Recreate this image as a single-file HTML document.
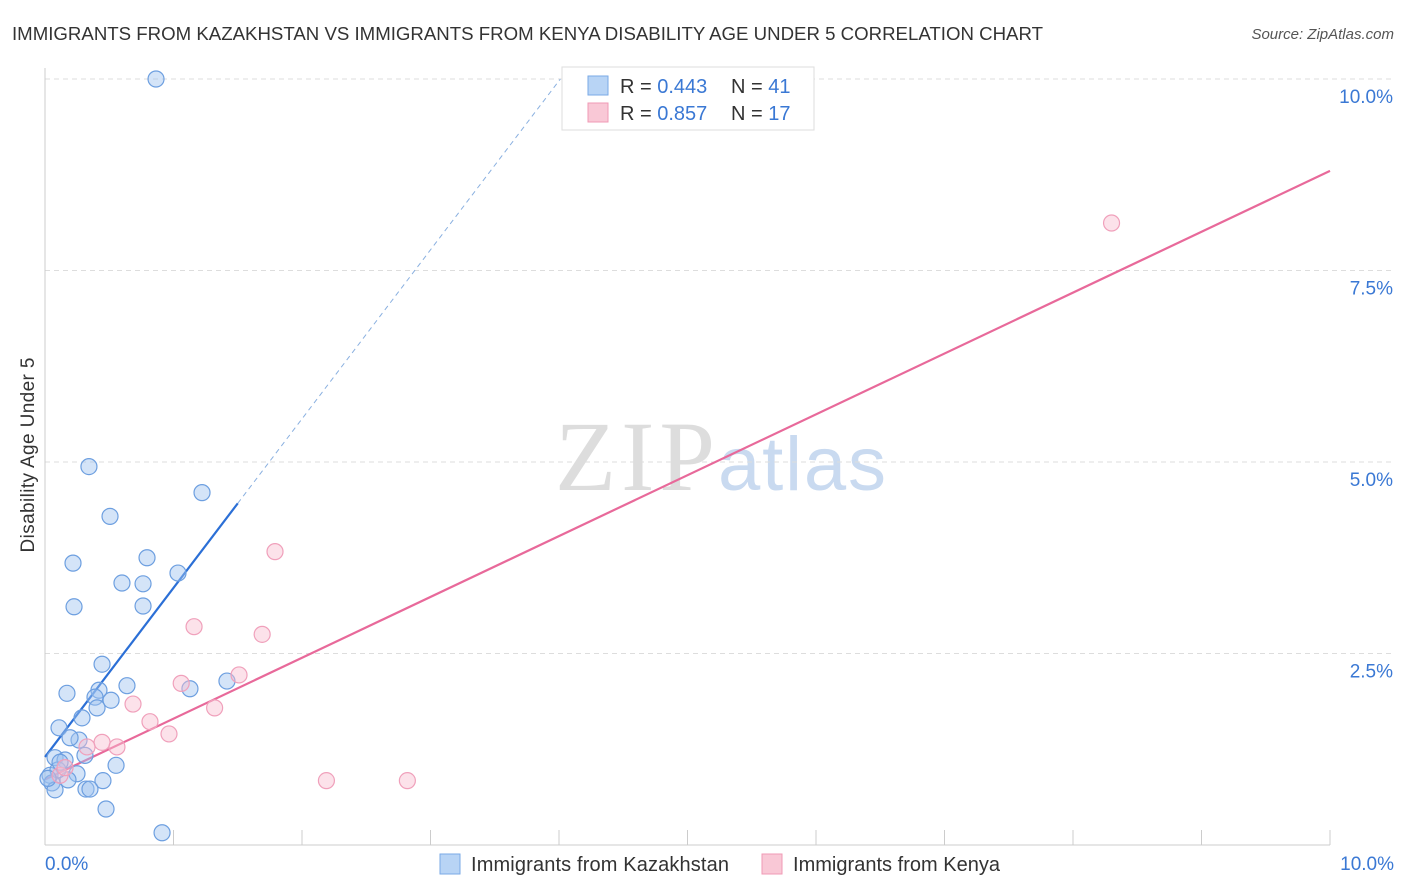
<!DOCTYPE html>
<html><head><meta charset="utf-8"><style>
body{margin:0;background:#fff;font-family:"Liberation Sans",sans-serif;}
svg{display:block}
</style></head><body>
<svg id="c" width="1406" height="892" xmlns="http://www.w3.org/2000/svg">
<text x="12" y="40" font-size="18" fill="#333" textLength="1031" lengthAdjust="spacingAndGlyphs">IMMIGRANTS FROM KAZAKHSTAN VS IMMIGRANTS FROM KENYA DISABILITY AGE UNDER 5 CORRELATION CHART</text>
<text x="1394" y="39" font-size="15" fill="#555" font-style="italic" text-anchor="end">Source: ZipAtlas.com</text>
<text transform="translate(34,455) rotate(-90)" font-size="19" fill="#333" text-anchor="middle" textLength="195">Disability Age Under 5</text>
<text x="555" y="490" font-size="100" fill="#ddd" font-family="Liberation Serif,serif" textLength="160">ZIP</text>
<text x="718" y="490" font-size="76" fill="#c9daf0" textLength="168">atlas</text>
<g id="grid"></g><g id="lines"></g><g id="pts"></g>
<g>
<rect x="562" y="67" width="252" height="63" fill="#fff" stroke="#ddd"/>
<rect x="588" y="76" width="20" height="19" fill="#b8d4f5" stroke="#7aaae6"/>
<rect x="588" y="103" width="20" height="19" fill="#f9c8d6" stroke="#f09ab5"/>
<text x="620" y="93" font-size="20" fill="#333">R = <tspan fill="#3a78d4">0.443</tspan></text>
<text x="731" y="93" font-size="20" fill="#333">N = <tspan fill="#3a78d4">41</tspan></text>
<text x="620" y="120" font-size="20" fill="#333">R = <tspan fill="#3a78d4">0.857</tspan></text>
<text x="731" y="120" font-size="20" fill="#333">N = <tspan fill="#3a78d4">17</tspan></text>
</g>
<g>
<rect x="440" y="854" width="20" height="20" fill="#b8d4f5" stroke="#7aaae6"/>
<text x="471" y="871" font-size="20" fill="#333" textLength="258">Immigrants from Kazakhstan</text>
<rect x="762" y="854" width="20" height="20" fill="#f9c8d6" stroke="#f09ab5"/>
<text x="793" y="871" font-size="20" fill="#333" textLength="207">Immigrants from Kenya</text>
</g>
</svg>
<script>
const yTicks=[2.5,5.0,7.5,10.0];
const yTickLabels=["2.5%","5.0%","7.5%","10.0%"];
const xTicks=[0,1,2,3,4,5,6,7,8,9,10];
const kazX=[0.864,0.342,1.222,0.506,0.218,0.794,0.599,0.763,1.035,0.226,0.763,0.444,0.171,0.638,0.420,0.389,0.514,1.128,1.416,0.405,0.288,0.109,0.265,0.195,0.311,0.078,0.156,0.553,0.039,0.249,0.179,0.451,0.054,0.319,0.078,0.350,0.475,0.911,0.101,0.023,0.117];
const kazY=[10.0,4.94,4.60,4.29,3.68,3.75,3.42,3.41,3.55,3.11,3.12,2.36,1.98,2.08,2.02,1.93,1.89,2.04,2.14,1.79,1.66,1.53,1.37,1.40,1.17,1.14,1.11,1.04,0.91,0.93,0.85,0.84,0.81,0.73,0.72,0.73,0.47,0.16,0.98,0.87,1.08];
const kenX=[8.30,1.79,1.16,1.69,1.51,1.06,1.32,0.685,0.817,0.965,0.444,0.560,0.327,0.117,0.156,2.19,2.82];
const kenY=[8.12,3.83,2.85,2.75,2.22,2.11,1.79,1.84,1.61,1.45,1.34,1.28,1.28,0.91,1.01,0.84,0.84];
const kazLine=[0,1.15,1.5,4.46];
const kenLine=[0,0.855,10,8.80];
const NS="http://www.w3.org/2000/svg";
const sx=v=>45+v*128.5, sy=v=>845-v*76.6;
function mk(t,a,p){const e=document.createElementNS(NS,t);for(const k in a)e.setAttribute(k,a[k]);document.getElementById(p).appendChild(e);return e;}
yTicks.forEach((t,i)=>{
 const g=mk('line',{x1:45,x2:1394,y1:sy(t),y2:sy(t),stroke:'#ddd','stroke-dasharray':'5,4'},'grid');
 
 
 const l=mk('text',{x:1393,y:sy(t)+24,'font-size':19,fill:'#3a78d4','text-anchor':'end'},'grid');l.textContent=yTickLabels[i];
 
 
});
const ax=mk('line',{x1:45,x2:1330,y1:845,y2:845,stroke:'#ccc'},'grid');


const ay=mk('line',{x1:45,x2:45,y1:68,y2:845,stroke:'#ccc'},'grid');


xTicks.forEach(t=>{const e=mk('line',{x1:sx(t),x2:sx(t),y1:830,y2:845,stroke:'#ccc'},'grid');
 
 });
const x0=mk('text',{x:45,y:870,'font-size':19,fill:'#3a78d4'},'grid');x0.textContent='0.0%';


const x1=mk('text',{x:1394,y:870,'font-size':19,fill:'#3a78d4','text-anchor':'end'},'grid');x1.textContent='10.0%';


kazX.forEach((v,i)=>{const c=mk('circle',{cx:sx(v),cy:sy(kazY[i]),r:8,fill:'rgba(160,196,240,0.45)',stroke:'#6d9fe0','stroke-width':1.2},'pts');
 
 });
kenX.forEach((v,i)=>{const c=mk('circle',{cx:sx(v),cy:sy(kenY[i]),r:8,fill:'rgba(248,190,208,0.45)',stroke:'#f0a0bb','stroke-width':1.2},'pts');
 
 });
const slope=(kazLine[3]-kazLine[1])/(kazLine[2]-kazLine[0]);
const xEnd=(10-kazLine[1])/slope;
const bd=mk('line',{x1:sx(kazLine[2]),y1:sy(kazLine[3]),x2:sx(xEnd),y2:sy(10),stroke:'#8ab0e0','stroke-dasharray':'5,4','stroke-width':1},'lines');


const bl=mk('line',{x1:sx(kazLine[0]),y1:sy(kazLine[1]),x2:sx(kazLine[2]),y2:sy(kazLine[3]),stroke:'#2b6fd6','stroke-width':2.2},'lines');


const pl=mk('line',{x1:sx(kenLine[0]),y1:sy(kenLine[1]),x2:sx(kenLine[2]),y2:sy(kenLine[3]),stroke:'#e8699a','stroke-width':2.2},'lines');


</script>
</body></html>
